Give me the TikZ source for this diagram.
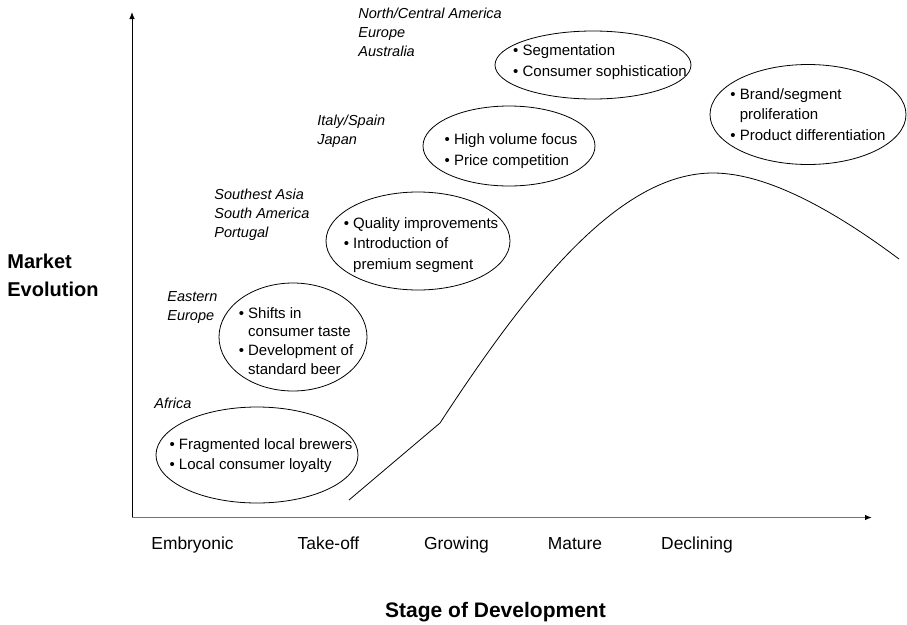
\documentclass[tikz,border=0pt]{standalone}
\usepackage{fontspec}
\setmainfont{Liberation Sans}
\usetikzlibrary{arrows.meta}

\tikzset{
  bubble/.style={align=left,inner sep=0pt,font=\fontsize{15}{20.5}\selectfont},
  region/.style={align=left,inner sep=0pt,anchor=west,font=\fontsize{14.5}{18.8}\selectfont\itshape},
  stage/.style={inner sep=0pt,anchor=base,font=\fontsize{17.4}{20}\selectfont},
  axislabel/.style={inner sep=0pt,align=left,font=\fontsize{20}{28}\selectfont\bfseries},
  axisline/.style={line width=0.9pt,-{Latex[length=7pt,width=5.5pt,black]}}
}
\newcommand{\bl}{\textbullet\ }
\newcommand{\ind}{\phantom{\textbullet\ }}

\begin{document}
\begin{tikzpicture}[x=1pt,y=-1pt,line width=0.8pt]
\useasboundingbox (0,0) rectangle (907,624);

% axes
\coordinate (o) at (132,517.5);
\coordinate (ytip) at (132,12);
\coordinate (xtip) at (872,517.5);
\draw[axisline] (o) -- (ytip);
\draw[axisline,draw=black!55,line width=1.3pt] (o) -- (xtip);

\node[axislabel,anchor=west] (mkt) at (7,275) {Market\\Evolution};
\node[axislabel,anchor=base,font=\fontsize{21}{28}\selectfont\bfseries] (dev) at (495.5,617) {Stage of Development};

% stages
\node[stage] (emb)  at (192.5,549) {Embryonic};
\node[stage] (take) at (328.5,549) {Take-off};
\node[stage] (grow) at (456.5,549) {Growing};
\node[stage] (mat)  at (575,549) {Mature};
\node[stage] (decl) at (697,549) {Declining};

% regions
\node[region] (afr) at (154,403) {Africa};
\node[region] (eeu) at (167,307.5) {Eastern\\Europe};
\node[region] (sea) at (214,214.5) {Southest Asia\\South America\\Portugal};
\node[region] (ita) at (317,131) {Italy/Spain\\Japan};
\node[region] (nca) at (358,32.5) {North/Central America\\Europe\\Australia};

% bubbles
\node[bubble] (frag) at (261,455.5) {\bl Fragmented local brewers\\\bl Local consumer loyalty};
\node[bubble,font=\fontsize{15}{18.8}\selectfont] (shift) at (296,341) {\bl Shifts in\\\ind consumer taste\\\bl Development of\\\ind standard beer};
\node[bubble] (qual) at (421,245) {\bl Quality improvements\\\bl Introduction of\\\ind premium segment};
\node[bubble] (vol) at (511,151) {\bl High volume focus\\\bl Price competition};
\node[bubble] (seg) at (600,62) {\bl Segmentation\\\bl Consumer sophistication};
\node[bubble] (brand) at (808,114.5) {\bl Brand/segment\\\ind proliferation\\\bl Product differentiation};

\draw (frag) ++(-4,-0.5) ellipse [x radius=101pt, y radius=48pt];
\draw (shift) ++(-3,-4) ellipse [x radius=74pt, y radius=54pt];
\draw (qual) ++(-3,-4) ellipse [x radius=92pt, y radius=49pt];
\draw (vol) ++(-2,-5) ellipse [x radius=86pt, y radius=40pt];
\draw (seg) ++(-7,3) ellipse [x radius=98pt, y radius=34pt];
\draw (brand) ellipse [x radius=98pt, y radius=50pt];

% curve
\coordinate (c0) at (349,500);
\coordinate (c1) at (440,423);
\coordinate (peak) at (713,173);
\coordinate (c3) at (899,259);
\draw (c0) -- (c1) .. controls (530,285) and (620,173) .. (peak)
      .. controls (770,173) and (840,215) .. (c3);
\end{tikzpicture}
\end{document}
